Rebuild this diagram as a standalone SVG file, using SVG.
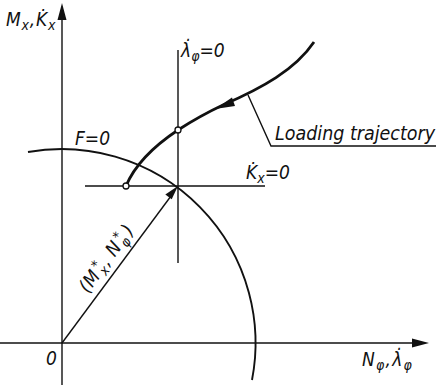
<svg xmlns="http://www.w3.org/2000/svg" width="436" height="385" viewBox="0 0 436 385">
<style>
.ln{fill:none;stroke:#111;stroke-width:1.4}
.arc{fill:none;stroke:#111;stroke-width:1.9}
.th{fill:none;stroke:#111;stroke-width:2.8}
.lb{font-family:"DejaVu Sans Condensed","DejaVu Sans",sans-serif;font-style:italic;font-size:19px;fill:#111}
.sb{font-size:14px}
.pt{fill:#fff;stroke:#111;stroke-width:1.3}
.ah{fill:#111}
</style>
<rect width="436" height="385" fill="#fff"/>
<g id="connectors">
  <line class="ln" x1="62" y1="385" x2="62" y2="14"/>
  <polygon class="ah" points="62,3 57.5,20 66.5,20"/>
  <line class="ln" x1="0" y1="343" x2="418" y2="343"/>
  <polygon class="ah" points="429,343 412,338.5 412,347.5"/>
  <path class="arc" d="M28,152 A194,194 0 0 1 252,380"/>
  <line class="ln" x1="178" y1="50" x2="178" y2="263"/>
  <line class="ln" x1="85" y1="186" x2="265" y2="186"/>
  <line class="ln" x1="62" y1="343" x2="171" y2="196"/>
  <polygon class="ah" points="178,186 165.3,194.5 171.7,199.3"/>
  <path class="th" d="M314,42 C295,70 262,88 223,105 C208,112 192,121 178,130 C160,142 136,162 126,186"/>
  <polygon class="ah" points="215,109 232,97.5 235,106"/>
  <polyline class="ln" points="248,95 271,146 436,146"/>
</g>
<g id="points">
  <circle class="pt" cx="178" cy="130" r="3"/>
  <circle class="pt" cx="126" cy="186" r="3"/>
</g>
<g id="labels">
  <text class="lb" x="6" y="26" letter-spacing="0.8">M<tspan class="sb" dy="4">x</tspan><tspan dy="-4">,K̇</tspan><tspan class="sb" dy="4">x</tspan></text>
  <text class="lb" x="181" y="57">λ̇<tspan class="sb" dy="4">φ</tspan><tspan dy="-4">=0</tspan></text>
  <text class="lb" x="75" y="145">F=0</text>
  <text class="lb" x="246" y="179">K̇<tspan class="sb" dy="4">x</tspan><tspan dy="-4">=0</tspan></text>
  <text class="lb" x="275" y="140" textLength="160" lengthAdjust="spacingAndGlyphs">Loading trajectory</text>
  <text class="lb" x="46" y="365">0</text>
  <text class="lb" x="362" y="366" letter-spacing="1.2">N<tspan class="sb" dy="4">φ</tspan><tspan dy="-4">,λ̇</tspan><tspan class="sb" dy="4">φ</tspan></text>
  <g transform="translate(88,294) rotate(-53.5)">
    <text class="lb"><tspan x="0" y="0">(</tspan><tspan x="7" y="0">M</tspan><tspan class="sb" x="25" y="4">x</tspan><tspan class="sb" x="25" y="-6">*</tspan><tspan x="34" y="0">,</tspan><tspan x="45" y="0">N</tspan><tspan class="sb" x="60" y="4">φ</tspan><tspan class="sb" x="61" y="-6">*</tspan><tspan x="72" y="0">)</tspan></text>
  </g>
</g>
</svg>
